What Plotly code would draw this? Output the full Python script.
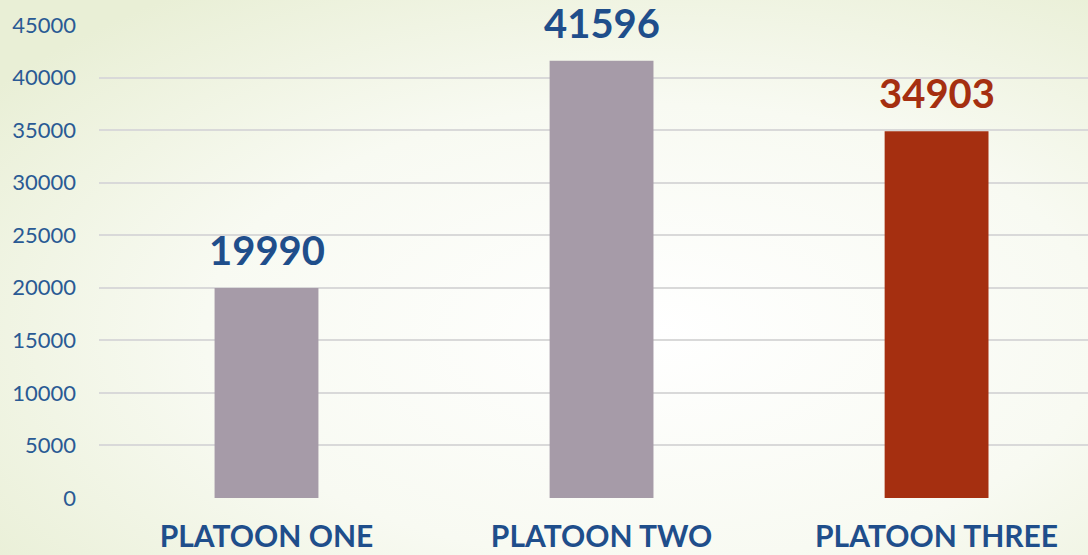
import plotly.graph_objects as go
import base64

categories = ["PLATOON ONE", "PLATOON TWO", "PLATOON THREE"]
values = [19990, 41596, 34903]
bar_colors = ["#a69ba8", "#a69ba8", "#a52f10"]
label_colors = ["#1f4e8b", "#1f4e8b", "#a52f10"]
tick_vals = [0, 5000, 10000, 15000, 20000, 25000, 30000, 35000, 40000, 45000]
tick_text = ["0", "5000", "10000", "15000", "20000", "25000", "30000", "35000", "40000", "45000"]

svg = """<svg xmlns='http://www.w3.org/2000/svg' width='1088' height='555'>
<defs><radialGradient id='g' cx='0.6' cy='0.6' r='0.75'>
<stop offset='0' stop-color='#ffffff'/><stop offset='0.55' stop-color='#f8faf2'/>
<stop offset='1' stop-color='#e9efd6'/></radialGradient></defs>
<rect width='1088' height='555' fill='url(#g)'/></svg>"""
bg = "data:image/svg+xml;base64," + base64.b64encode(svg.encode()).decode()

fig = go.Figure()
fig.add_trace(go.Bar(x=categories, y=values, marker=dict(color=bar_colors, line=dict(width=0)),
                     width=0.31, hoverinfo="skip"))

for c, v, col in zip(categories, values, label_colors):
    fig.add_annotation(x=c, y=v, text=str(v), showarrow=False, yanchor="bottom", yshift=12,
                       font=dict(family="Lato", size=40, color=col, weight="bold"))

fig.update_layout(
    width=1088, height=555,
    margin=dict(l=99, r=0, t=25, b=57, autoexpand=False),
    paper_bgcolor="#f4f7ec", plot_bgcolor="rgba(0,0,0,0)",
    showlegend=False,
    images=[dict(source=bg, xref="paper", yref="paper", x=-99/989, y=1+25/473,
                 sizex=1088/989, sizey=555/473, xanchor="left", yanchor="top",
                 sizing="stretch", layer="below")],
    xaxis=dict(range=[-0.5, 2.452], showgrid=False, zeroline=False, showline=False,
               automargin=False,
               tickfont=dict(family="Lato", size=30, color="#1f4e8b", weight="bold"),
               ticks="outside", ticklen=12, tickcolor="rgba(0,0,0,0)"),
    yaxis=dict(range=[0, 45000], tickvals=tick_vals, ticktext=tick_text, showgrid=True,
               gridcolor="#d9d9d9", gridwidth=2, zeroline=False, showline=False,
               automargin=False,
               tickfont=dict(family="Lato", size=22, color="#2a5a94"),
               ticklabelstandoff=22),
)

fig.write_html("out.html", config={"displayModeBar": False},
               post_script="document.body.style.margin='0px';")
